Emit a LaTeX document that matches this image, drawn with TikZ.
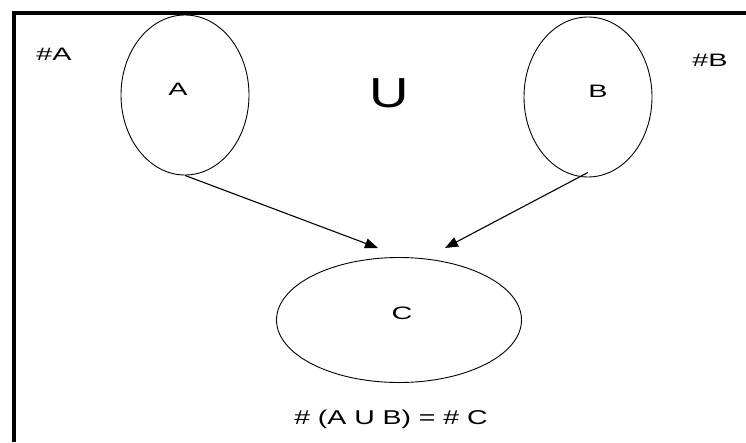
\documentclass[tikz,border=0pt]{standalone}
\usepackage{graphicx}
\usepackage{fontspec}
\setmainfont{Liberation Sans}
\usetikzlibrary{shapes.geometric,arrows.meta}
\begin{document}
\begin{tikzpicture}[x=1pt,y=-1pt,
  setshape/.style={draw,ellipse,line width=0.9pt,inner sep=0pt},
  lbl/.style={font=\fontsize{18}{20}\selectfont,inner sep=0pt},
  conn/.style={line width=1.1pt,-{Triangle[length=13pt,width=10pt]}}]
\useasboundingbox (0,0) rectangle (746,442);
\draw[line width=4pt] (746,13) -- (14,13) -- (14,442);
\node[setshape,minimum width=128pt,minimum height=160pt] (A) at (185,95) {};
\node[setshape,minimum width=128pt,minimum height=160pt] (B) at (588,97) {};
\node[setshape,minimum width=245pt,minimum height=125pt] (C) at (399,320) {};
\node[lbl] (tA) at (178,89) {\scalebox{1.6}[1]{A}};
\node[lbl] (tB) at (598,91) {\scalebox{1.6}[1]{B}};
\node[lbl] (tC) at (402,313) {\scalebox{1.6}[1]{C}};
\node[lbl] (hA) at (54,54) {\scalebox{1.6}[1]{\#A}};
\node[lbl] (hB) at (710,60) {\scalebox{1.6}[1]{\#B}};
\node[font=\fontsize{42}{44}\selectfont,inner sep=0pt] (U) at (389,93) {\scalebox{1.3}[1]{U}};
\node[font=\fontsize{20}{22}\selectfont,inner sep=0pt] (eq) at (391,419) {\scalebox{1.42}[1]{\# (A U B) = \# C}};
\coordinate (ea) at (378,248);
\coordinate (eb) at (445,248);
\draw[conn] (A.south) -- (ea);
\draw[conn] ([yshift=5pt]B.south) -- (eb);
\end{tikzpicture}
\end{document}
